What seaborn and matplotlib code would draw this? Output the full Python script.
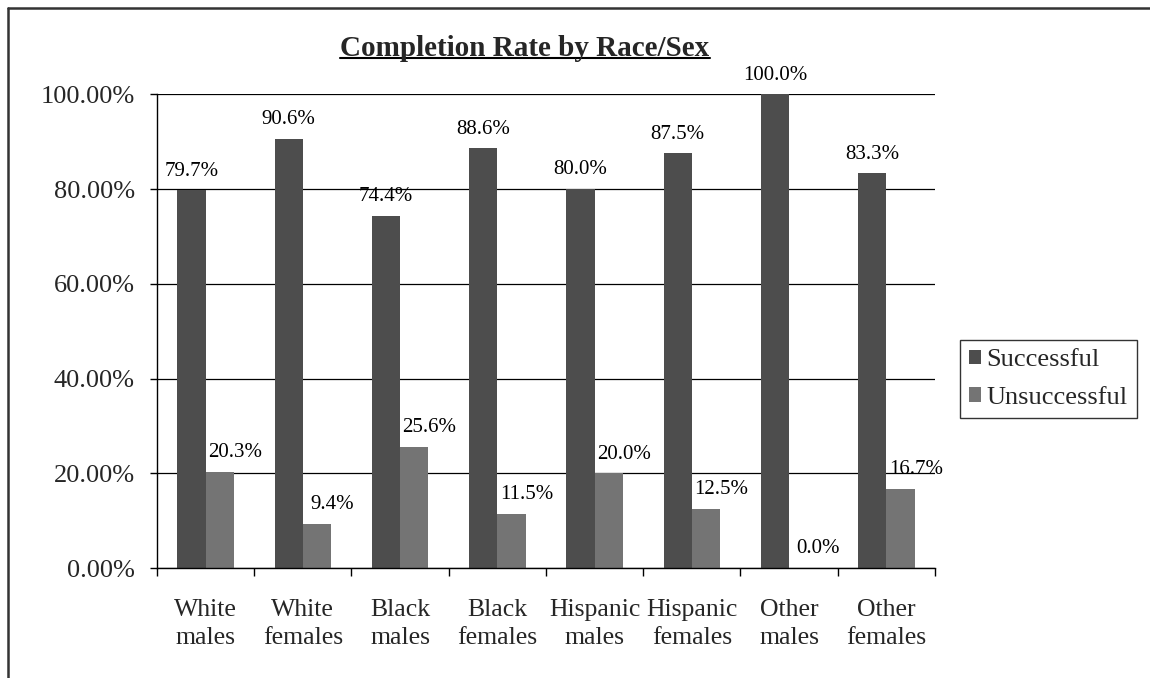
import seaborn as sns
import pandas as pd
import matplotlib.pyplot as plt
from matplotlib.lines import Line2D
from matplotlib.ticker import PercentFormatter, FixedLocator

# chart data
groups = ['White\nmales', 'White\nfemales', 'Black\nmales', 'Black\nfemales',
          'Hispanic\nmales', 'Hispanic\nfemales', 'Other\nmales', 'Other\nfemales']
successful = [79.7, 90.6, 74.4, 88.6, 80.0, 87.5, 100.0, 83.3]
unsuccessful = [20.3, 9.4, 25.6, 11.5, 20.0, 12.5, 0.0, 16.7]
series = ['Successful', 'Unsuccessful']
y_ticks = [0, 20, 40, 60, 80, 100]

df = pd.DataFrame({
    'group': groups * 2,
    'outcome': [series[0]] * len(groups) + [series[1]] * len(groups),
    'rate': successful + unsuccessful,
})

sns.set_theme(style='white')
plt.rcParams['font.family'] = ['Liberation Serif', 'DejaVu Serif']

fig = plt.figure(figsize=(11.5, 6.78), dpi=100)
ax = fig.add_axes([0.1365, 0.162, 0.6765, 0.699])

sns.barplot(data=df, x='group', y='rate', hue='outcome', order=groups,
            hue_order=series, palette=['#4d4d4d', '#747474'], saturation=1,
            width=0.58, linewidth=0, ax=ax, legend=False)

# axes styling
ax.set_ylim(0, 100)
ax.set_xlim(-0.5, len(groups) - 0.5)
ax.yaxis.set_major_locator(FixedLocator(y_ticks))
ax.yaxis.set_major_formatter(PercentFormatter(xmax=100, decimals=2))
ax.yaxis.grid(True, color='black', linewidth=0.9)
ax.xaxis.grid(False)
ax.set_axisbelow(True)
for side in ['top', 'right']:
    ax.spines[side].set_visible(False)
for side in ['left', 'bottom']:
    ax.spines[side].set_color('black')
    ax.spines[side].set_linewidth(1.0)
ax.set_xlabel('')
ax.set_ylabel('')

ax.tick_params(axis='y', direction='out', length=5, width=1, color='black',
               pad=11, labelsize=19, left=True)
ax.tick_params(axis='x', which='major', length=0, pad=22, labelsize=18.5)
for lbl in ax.get_xticklabels():
    lbl.set_linespacing(1.35)
ax.set_xticks([i - 0.5 for i in range(len(groups) + 1)], minor=True)
ax.tick_params(axis='x', which='minor', direction='out', length=6, width=1,
               color='black', bottom=True)

# value labels (Unsuccessful labels sit a little right of their bars)
for cont, dx in zip(ax.containers, [0, 11]):
    for b in cont:
        h = b.get_height()
        ax.annotate(f'{h:.1f}%', xy=(b.get_x() + b.get_width() / 2, h),
                    xytext=(dx, 7), textcoords='offset points',
                    ha='center', va='bottom', fontsize=15, color='black')

# legend
ax.legend(ax.containers, series, loc='center left',
          bbox_to_anchor=(0.835, 0.441), bbox_transform=fig.transFigure,
          frameon=True, fancybox=False, edgecolor='black', fontsize=19,
          handlelength=0.45, handleheight=0.45, handletextpad=0.2,
          borderpad=0.35, labelspacing=0.6, borderaxespad=0)
ax.get_legend().get_frame().set_linewidth(1.0)

# title with underline
title = fig.text(0.4565, 0.929, 'Completion Rate by Race/Sex', ha='center',
                 va='center', fontsize=21, fontweight='bold')
fig.canvas.draw()
bb = title.get_window_extent().transformed(fig.transFigure.inverted())
fig.add_artist(Line2D([bb.x0, bb.x1], [bb.y0 + 0.006, bb.y0 + 0.006],
                      transform=fig.transFigure, color='black', linewidth=1.5))

# outer chart border (left and top visible in the scan)
fig.add_artist(Line2D([0.007, 0.007], [0.0, 0.988], transform=fig.transFigure,
                      color='#333333', linewidth=1.8))
fig.add_artist(Line2D([0.007, 1.0], [0.988, 0.988], transform=fig.transFigure,
                      color='#333333', linewidth=1.8))

fig.savefig('out.png', dpi=100)
